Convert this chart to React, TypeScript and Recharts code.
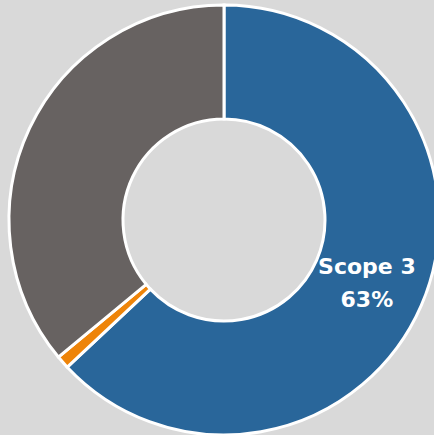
import { Cell, Pie, PieChart } from "recharts";

const scopes = ["Scope 3", "Scope 2", "Scope 1"];
const shares = [63, 1, 36];
const colors = ["#29669a", "#ee8409", "#676261"];
const labelled = ["Scope 3"];

const data = scopes.map((name, i) => ({ name, value: shares[i], color: colors[i] }));

const RAD = Math.PI / 180;

function renderLabel(props: any) {
  const { cx, cy, midAngle, innerRadius, outerRadius, name, percent } = props;
  if (!labelled.includes(name)) return null;
  const r = innerRadius + (outerRadius - innerRadius) * 0.48;
  const x = cx + r * Math.cos(-midAngle * RAD);
  const y = cy + r * Math.sin(-midAngle * RAD);
  return (
    <text
      x={x}
      y={y}
      fill="#ffffff"
      textAnchor="middle"
      fontFamily="'DejaVu Sans', sans-serif"
      fontWeight={700}
      fontSize={22}
    >
      <tspan x={x} dy={-8}>{name}</tspan>
      <tspan x={x} dy={33}>{Math.round(percent * 100)}%</tspan>
    </text>
  );
}

export default function App() {
  return (
    <div
      style={{
        position: "fixed",
        top: 0,
        left: 0,
        width: 434,
        height: 435,
        background: "#d9d9d9",
        overflow: "hidden",
      }}
    >
      <PieChart width={434} height={435} margin={{ top: 0, right: 0, bottom: 0, left: 0 }}>
        <Pie
          data={data}
          dataKey="value"
          nameKey="name"
          cx={224}
          cy={220}
          innerRadius={101}
          outerRadius={215}
          startAngle={90}
          endAngle={-270}
          stroke="#ffffff"
          strokeWidth={3}
          label={renderLabel}
          labelLine={false}
          isAnimationActive={false}
        >
          {data.map((entry, i) => (
            <Cell key={i} fill={entry.color} />
          ))}
        </Pie>
      </PieChart>
    </div>
  );
}
